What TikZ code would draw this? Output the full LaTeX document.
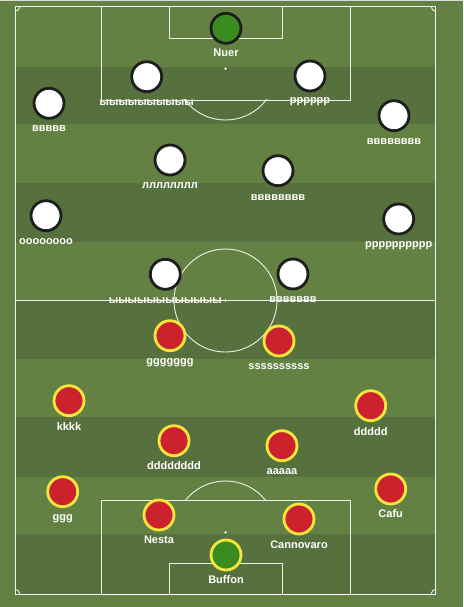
\documentclass[tikz,border=0pt]{standalone}
\usepackage{fontspec}
\setmainfont{Liberation Sans}
\definecolor{grassL}{RGB}{99,129,66}
\definecolor{grassD}{RGB}{86,112,62}
\definecolor{kitRed}{RGB}{204,34,45}
\definecolor{kitYellow}{RGB}{245,230,60}
\definecolor{gkGreen}{RGB}{58,140,30}
\definecolor{rimDark}{RGB}{30,30,30}
\begin{document}
\begin{tikzpicture}[x=1pt,y=-1pt,
  pitchline/.style={draw=white, line width=0.9pt, draw opacity=0.9},
  whiteplayer/.style={circle, fill=white, draw=rimDark, line width=2.8pt, minimum size=30pt, inner sep=0pt},
  redplayer/.style={circle, fill=kitRed, draw=kitYellow, line width=2.8pt, minimum size=30pt, inner sep=0pt},
  keeperA/.style={whiteplayer, fill=gkGreen},
  keeperB/.style={redplayer, fill=gkGreen},
  plabel/.style={text=white, font=\fontsize{11}{12}\selectfont\bfseries, inner sep=0pt}
]
\fill[grassL] (0,0) rectangle (463,607);
\useasboundingbox (0,0) rectangle (463,607);
\fill[black!15] (0,0) rectangle (463,1.5);
% stripes
\foreach \a/\b in {67/124, 183/242, 300.5/359, 417/477, 534/594}
  \fill[grassD] (15.3,\a) rectangle (435.7,\b);
% pitch lines
\draw[pitchline] (15.3,6.7) rectangle (435.7,594);
\draw[pitchline] (15.3,300.5) -- (435.7,300.5);
\draw[pitchline] (225.5,300.5) circle (51.5);
\fill[white] (225.5,300.5) circle (1.3);
% top area
\draw[pitchline] (101.7,6.7) rectangle (350.7,100);
\draw[pitchline] (169.7,6.7) rectangle (282.7,38);
\fill[white] (225.5,68.7) circle (1.3);
\begin{scope}
  \clip (0,100) rectangle (463,300);
  \draw[pitchline] (225.5,68.7) circle (51.3);
\end{scope}
% bottom area
\draw[pitchline] (101.7,500.7) rectangle (350.7,594);
\draw[pitchline] (169.7,563.3) rectangle (282.7,594);
\fill[white] (225.5,532.3) circle (1.3);
\begin{scope}
  \clip (0,301) rectangle (463,500.7);
  \draw[pitchline] (225.5,532.3) circle (51.3);
\end{scope}
% corners
\begin{scope}
  \clip (15.3,6.7) rectangle (435.7,594);
  \draw[pitchline] (15.3,6.7) circle (4.5);
  \draw[pitchline] (435.7,6.7) circle (4.5);
  \draw[pitchline] (15.3,594) circle (4.5);
  \draw[pitchline] (435.7,594) circle (4.5);
\end{scope}
% white team
\node[keeperA] (nuer) at (226,28.3) {};
\node[plabel] (nuerL) at (226,53) {Nuer};
\node[whiteplayer] (w1) at (146.7,76.7) {};
\node[plabel] (w1L) at (146.7,102.5) {ыыыыыыыыыы};
\node[whiteplayer] (w2) at (310,76) {};
\node[plabel] (w2L) at (310,102) {рррррр};
\node[whiteplayer] (w3) at (49,103.3) {};
\node[plabel] (w3L) at (49,129) {ввввв};
\node[whiteplayer] (w4) at (394,115.7) {};
\node[plabel] (w4L) at (394,142) {вввввввв};
\node[whiteplayer] (w5) at (170,160) {};
\node[plabel] (w5L) at (170,185.7) {лллллллл};
\node[whiteplayer] (w6) at (278,170.7) {};
\node[plabel] (w6L) at (278,197.3) {вввввввв};
\node[whiteplayer] (w7) at (46,215.7) {};
\node[plabel] (w7L) at (46,241.7) {оооооооо};
\node[whiteplayer] (w8) at (398.7,219) {};
\node[plabel] (w8L) at (398.7,245.7) {рррррррррр};
\node[whiteplayer] (w9) at (165.3,274.3) {};
\node[plabel] (w9L) at (165.3,300.5) {ыыыыыыыыыыыы};
\node[whiteplayer] (w10) at (293,274) {};
\node[plabel] (w10L) at (293,300) {ввввввв};
% red team
\node[redplayer] (r1) at (170,335.7) {};
\node[plabel] (r1L) at (170,362.7) {ggggggg};
\node[redplayer] (r2) at (279,341) {};
\node[plabel] (r2L) at (279,366.7) {ssssssssss};
\node[redplayer] (r3) at (69,400.7) {};
\node[plabel] (r3L) at (69,426.7) {kkkk};
\node[redplayer] (r4) at (370.7,405.7) {};
\node[plabel] (r4L) at (370.7,431.7) {ddddd};
\node[redplayer] (r5) at (174,440.7) {};
\node[plabel] (r5L) at (174,466) {dddddddd};
\node[redplayer] (r6) at (282,445.7) {};
\node[plabel] (r6L) at (282,471.7) {aaaaa};
\node[redplayer] (r7) at (62.7,491.7) {};
\node[plabel] (r7L) at (62.7,518.3) {ggg};
\node[redplayer] (r8) at (390.7,489) {};
\node[plabel] (r8L) at (390.7,514) {Cafu};
\node[redplayer] (r9) at (159,515) {};
\node[plabel] (r9L) at (159,540) {Nesta};
\node[redplayer] (r10) at (299,519) {};
\node[plabel] (r10L) at (299,544.3) {Cannovaro};
\node[keeperB] (buffon) at (226,555) {};
\node[plabel] (buffonL) at (226,580) {Buffon};
\end{tikzpicture}
\end{document}
